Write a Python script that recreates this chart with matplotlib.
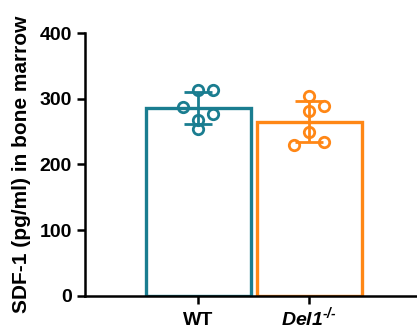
import numpy as np
import matplotlib
matplotlib.use('Agg')
import matplotlib.pyplot as plt

plt.rcParams['font.family'] = ['Liberation Sans', 'DejaVu Sans']
plt.rcParams['font.weight'] = 'bold'
plt.rcParams['mathtext.fontset'] = 'custom'
plt.rcParams['mathtext.rm'] = 'Liberation Sans:italic:bold'
plt.rcParams['mathtext.it'] = 'Liberation Sans:italic:bold'
plt.rcParams['mathtext.bf'] = 'Liberation Sans:italic:bold'

# data
groups = ['WT', r'$\mathrm{Del1}^{\text{-/-}}$']
wt_points = [314, 314, 288, 277, 268, 254]
del1_points = [305, 289, 282, 250, 230, 234]
colors = ['#1a7d90', '#ff8716']

# horizontal scatter of the dots within each bar
wt_offsets = [0, 1, -1, 1, 0, 0]
del1_offsets = [0, 1, 0, 0, -1, 1]

fig = plt.figure(figsize=(4.17, 3.34), dpi=100)
ax = fig.add_axes([0.204, 0.115, 0.796, 0.785])

x = np.arange(len(groups))
for i, (pts, offs) in enumerate([(wt_points, wt_offsets), (del1_points, del1_offsets)]):
    pts = np.array(pts, dtype=float)
    m, sd = pts.mean(), pts.std(ddof=1)
    ax.bar(x[i], m, width=0.95, facecolor='white', edgecolor=colors[i],
           linewidth=2.4, zorder=2)
    ax.errorbar(x[i], m, yerr=sd, color=colors[i], capsize=10,
                elinewidth=2, capthick=2, zorder=3)
    ax.plot(x[i] + np.array(offs) * 0.135, pts, 'o', markersize=7.5,
            markerfacecolor='none', markeredgecolor=colors[i],
            markeredgewidth=2, zorder=4)

ax.set_xlim(-1.02, 1.97)
ax.set_ylim(0, 400)
ax.set_yticks([0, 100, 200, 300, 400])
ax.set_xticks(x)
ax.set_xticklabels(groups)
ax.set_ylabel('SDF-1 (pg/ml) in bone marrow', fontsize=15, fontweight='bold', labelpad=6)
ax.tick_params(axis='both', labelsize=14, width=1.8, length=6)
ax.tick_params(axis='x', pad=15)
for lbl in ax.get_xticklabels():
    lbl.set_verticalalignment('baseline')
for s in ['top', 'right']:
    ax.spines[s].set_visible(False)
for s in ['left', 'bottom']:
    ax.spines[s].set_linewidth(1.8)

plt.savefig('out.png', dpi=100)
